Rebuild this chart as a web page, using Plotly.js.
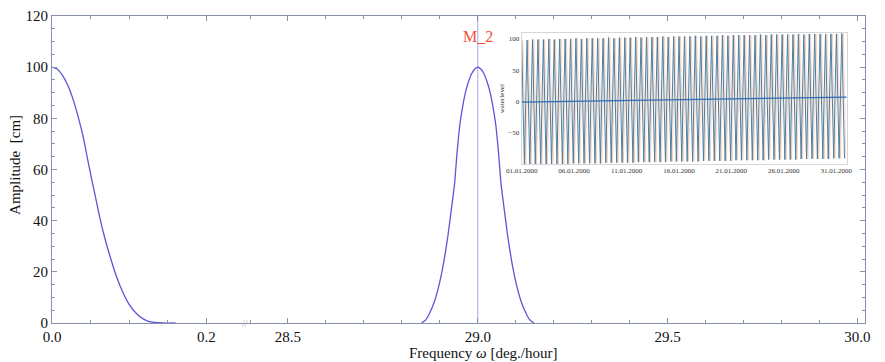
<!DOCTYPE html>
<html>
<head>
<meta charset="utf-8">
<script src="https://cdn.plot.ly/plotly-3.0.1.min.js"></script>
<style>html,body{margin:0;padding:0;background:#fff;}#chart{width:885px;height:362px;}</style>
</head>
<body>
<div id="chart"></div>
<script>
// ---- main spectrum: low-frequency part (near 0) ----
const freqLow = [0, 0.007, 0.0146, 0.021, 0.0275, 0.034, 0.0404, 0.046, 0.0512, 0.057, 0.0619, 0.068, 0.0748, 0.083, 0.092, 0.1, 0.109, 0.117, 0.126, 0.143, 0.16];
const ampLow  = [100, 99.2, 96.3, 92.5, 87.2, 80.5, 72.8, 64.2, 56.4, 48.2, 41.2, 33.6, 26.4, 18.6, 11.8, 7.2, 3.8, 1.8, 0.5, 0, 0];

// ---- main spectrum: M2 peak ----
const freqM2 = [28.852, 28.863, 28.873, 28.886, 28.899, 28.910, 28.921, 28.930, 28.939, 28.945, 28.952, 28.960, 28.969, 28.976, 28.984, 28.992, 29.000,
                29.008, 29.016, 29.024, 29.031, 29.040, 29.048, 29.055, 29.061, 29.070, 29.079, 29.090, 29.101, 29.114, 29.127, 29.137, 29.148];
const ampM2  = [0, 1.2, 3.8, 8.5, 15.5, 23.5, 33.7, 44, 54.6, 66, 76.7, 84.5, 91, 94.5, 97.5, 99.3, 100,
                99.3, 97.5, 94.5, 91, 84.5, 76.7, 66, 54.6, 44, 33.7, 23.5, 15.5, 8.5, 3.8, 1.2, 0];
const m2Freq = 29.0;
const m2Label = 'M_2';

// tick labels
const yTicks = [0, 20, 40, 60, 80, 100, 120];

// ---- inset: water level series (extrema, hours from 01.01.2000 00:00) ----
const peakHours = [0, 12.4, 24.8, 37.3, 49.7, 62.1, 74.5, 86.9, 99.4, 111.8,
  124.2, 136.6, 149.0, 161.5, 173.9, 186.3, 198.7, 211.1, 223.6, 236.0,
  248.4, 260.8, 273.2, 285.7, 298.1, 310.5, 322.9, 335.3, 347.8, 360.2,
  372.6, 385.0, 397.4, 409.9, 422.3, 434.7, 447.1, 459.5, 472.0, 484.4,
  496.8, 509.2, 521.6, 534.1, 546.5, 558.9, 571.3, 583.7, 596.2, 608.6,
  621.0, 633.4, 645.8, 658.3, 670.7, 683.1, 695.5, 707.9, 720.4, 732.8];
const peakLevels = [99, 98, 99, 99, 99, 100, 99, 100, 100, 100,
  101, 100, 101, 101, 101, 101, 102, 101, 102, 102,
  102, 103, 102, 103, 103, 103, 104, 103, 104, 104,
  104, 104, 105, 104, 105, 105, 105, 106, 105, 106,
  106, 106, 106, 106, 107, 106, 107, 107, 107, 107,
  107, 108, 107, 108, 108, 108, 108, 108, 108, 109];
const troughHours = [6.2, 18.6, 31.1, 43.5, 55.9, 68.3, 80.7, 93.2, 105.6, 118.0,
  130.4, 142.8, 155.3, 167.7, 180.1, 192.5, 204.9, 217.4, 229.8, 242.2,
  254.6, 267.0, 279.5, 291.9, 304.3, 316.7, 329.1, 341.6, 354.0, 366.4,
  378.8, 391.2, 403.7, 416.1, 428.5, 440.9, 453.3, 465.8, 478.2, 490.6,
  503.0, 515.4, 527.9, 540.3, 552.7, 565.1, 577.5, 590.0, 602.4, 614.8,
  627.2, 639.6, 652.1, 664.5, 676.9, 689.3, 701.7, 714.2, 726.6, 739.0];
const troughLevels = [-101, -101, -101, -100, -100, -100, -100, -100, -100, -99,
  -99, -99, -99, -99, -99, -98, -98, -98, -98, -98,
  -98, -97, -97, -97, -97, -97, -97, -96, -96, -96,
  -96, -96, -96, -95, -95, -95, -95, -95, -95, -94,
  -94, -94, -94, -94, -94, -93, -93, -93, -93, -93,
  -93, -92, -92, -92, -92, -92, -92, -91, -91, -91];
const trendDates = ['2000-01-01 00:00', '2000-02-01 00:00'];
const trendLevels = [-1, 7];
const insetTickDates = ['2000-01-01', '2000-01-06', '2000-01-11', '2000-01-16', '2000-01-21', '2000-01-26', '2000-01-31'];
const insetTickText = ['01.01.2000', '06.01.2000', '11.01.2000', '16.01.2000', '21.01.2000', '26.01.2000', '31.01.2000'];
const insetYTicks = [-50, 0, 50, 100];
const insetYText = ['\u221250', '0', '50', '100'];

// build inset series (interleave extrema)
const t0 = Date.UTC(2000, 0, 1);
function hToDate(h) { return new Date(t0 + h * 3600e3).toISOString().replace('T', ' ').slice(0, 19); }
const orangeShiftHours = 3.1;
const wlX = [], wlY = [], orX = [];
for (let i = 0; i < peakHours.length; i++) {
  wlX.push(hToDate(peakHours[i])); wlY.push(peakLevels[i]); orX.push(hToDate(peakHours[i] + orangeShiftHours));
  wlX.push(hToDate(troughHours[i])); wlY.push(troughLevels[i]); orX.push(hToDate(troughHours[i] + orangeShiftHours));
}

const serif = 'Liberation Serif, Times New Roman, serif';
const curveColor = '#5d55d8';
const axisColor = '#8790ad';

const traces = [
  {x: freqLow, y: ampLow, xaxis: 'x', yaxis: 'y', mode: 'lines', line: {color: curveColor, width: 1.3, shape: 'spline', smoothing: 0.5}, hoverinfo: 'skip'},
  {x: [m2Freq, m2Freq], y: [0, 120], xaxis: 'x2', yaxis: 'y2', mode: 'lines', line: {color: '#a5a6e6', width: 1}, hoverinfo: 'skip'},
  {x: freqM2, y: ampM2, xaxis: 'x2', yaxis: 'y2', mode: 'lines', line: {color: curveColor, width: 1.3, shape: 'spline', smoothing: 0.35}, hoverinfo: 'skip'},
  {x: orX, y: wlY, xaxis: 'x3', yaxis: 'y3', mode: 'lines', line: {color: '#f3a27a', width: 0.8}, opacity: 0.5, hoverinfo: 'skip'},
  {x: wlX, y: wlY, xaxis: 'x3', yaxis: 'y3', mode: 'lines', line: {color: '#4f7f9f', width: 1}, hoverinfo: 'skip'},
  {x: trendDates, y: trendLevels, xaxis: 'x3', yaxis: 'y3', mode: 'lines', line: {color: '#2f6db5', width: 1.2}, hoverinfo: 'skip'}
];

const tickFont = {family: serif, size: 15, color: '#111'};
const breakFrac = 0.2375;

const layout = {
  width: 885, height: 362,
  margin: {l: 52, r: 20, t: 16, b: 39},
  paper_bgcolor: '#fff', plot_bgcolor: 'rgba(0,0,0,0)',
  showlegend: false,
  xaxis: {domain: [0, breakFrac], range: [0, 0.25], anchor: 'y', tick0: 0, dtick: 0.2, tickformat: '.1f',
    ticks: 'inside', ticklen: 5, tickcolor: axisColor, showline: true, linecolor: axisColor, linewidth: 1, mirror: 'ticks',
    showgrid: false, zeroline: false, tickfont: tickFont,
    minor: {dtick: 0.05, tick0: 0, ticks: 'inside', ticklen: 3, tickcolor: axisColor, showgrid: false}},
  xaxis2: {domain: [breakFrac, 1], range: [28.387, 30.02], anchor: 'y2', tick0: 28.5, dtick: 0.5, tickformat: '.1f',
    ticks: 'inside', ticklen: 5, tickcolor: axisColor, showline: true, linecolor: axisColor, linewidth: 1, mirror: 'ticks',
    showgrid: false, zeroline: false, tickfont: tickFont,
    minor: {dtick: 0.1, tick0: 28.5, ticks: 'inside', ticklen: 3, tickcolor: axisColor, showgrid: false}},
  yaxis: {domain: [0, 1], range: [0, 120], anchor: 'x', tickvals: yTicks, side: 'left',
    ticks: 'inside', ticklen: 5, tickcolor: axisColor, showline: true, linecolor: axisColor, linewidth: 1,
    showgrid: false, zeroline: false, tickfont: tickFont,
    minor: {dtick: 5, ticks: 'inside', ticklen: 3, tickcolor: axisColor, showgrid: false}},
  yaxis2: {domain: [0, 1], range: [0, 120], anchor: 'x2', tickvals: yTicks, side: 'right', showticklabels: false,
    ticks: 'inside', ticklen: 5, tickcolor: axisColor, showline: true, linecolor: axisColor, linewidth: 1,
    showgrid: false, zeroline: false,
    minor: {dtick: 5, ticks: 'inside', ticklen: 3, tickcolor: axisColor, showgrid: false}},
  xaxis3: {domain: [0.5777, 0.9775], anchor: 'y3', type: 'date', range: ['2000-01-01 00:00', '2000-02-01 00:00'],
    tickmode: 'array', tickvals: insetTickDates, ticktext: insetTickText,
    ticks: '', showline: true, linecolor: '#d6d6d6', mirror: true,
    showgrid: false, zeroline: false, tickfont: {family: serif, size: 7, color: '#333'}},
  yaxis3: {domain: [0.518, 0.9437], anchor: 'x3', range: [-100, 109],
    tickmode: 'array', tickvals: insetYTicks, ticktext: insetYText,
    ticks: '', showline: true, linecolor: '#d6d6d6', mirror: true,
    showgrid: false, zeroline: false, tickfont: {family: serif, size: 7, color: '#333'},
    title: {text: 'waterlevel', font: {family: serif, size: 7, color: '#333'}, standoff: 2}},
  annotations: [
    {text: m2Label, xref: 'x2', yref: 'y2', x: m2Freq, y: 112, showarrow: false, xanchor: 'center', yanchor: 'middle',
      font: {family: serif, size: 16, color: '#f0503c'}},
    {text: 'Frequency <i>\u03c9</i> [deg./hour]', xref: 'paper', yref: 'paper', x: 0.530, y: -0.098, showarrow: false,
      xanchor: 'center', yanchor: 'middle', font: {family: serif, size: 15, color: '#111'}},
    {text: 'Amplitude  [cm]', xref: 'paper', yref: 'paper', x: -0.0455, y: 0.515, textangle: -90, showarrow: false,
      xanchor: 'center', yanchor: 'middle', font: {family: serif, size: 15, color: '#111'}},
    {text: '//', xref: 'paper', yref: 'paper', x: breakFrac, y: 0, showarrow: false, xanchor: 'center', yanchor: 'middle',
      font: {family: serif, size: 10, color: '#aaa'}}
  ]
};

Plotly.newPlot('chart', traces, layout, {staticPlot: true, displayModeBar: false});
</script>
</body>
</html>
